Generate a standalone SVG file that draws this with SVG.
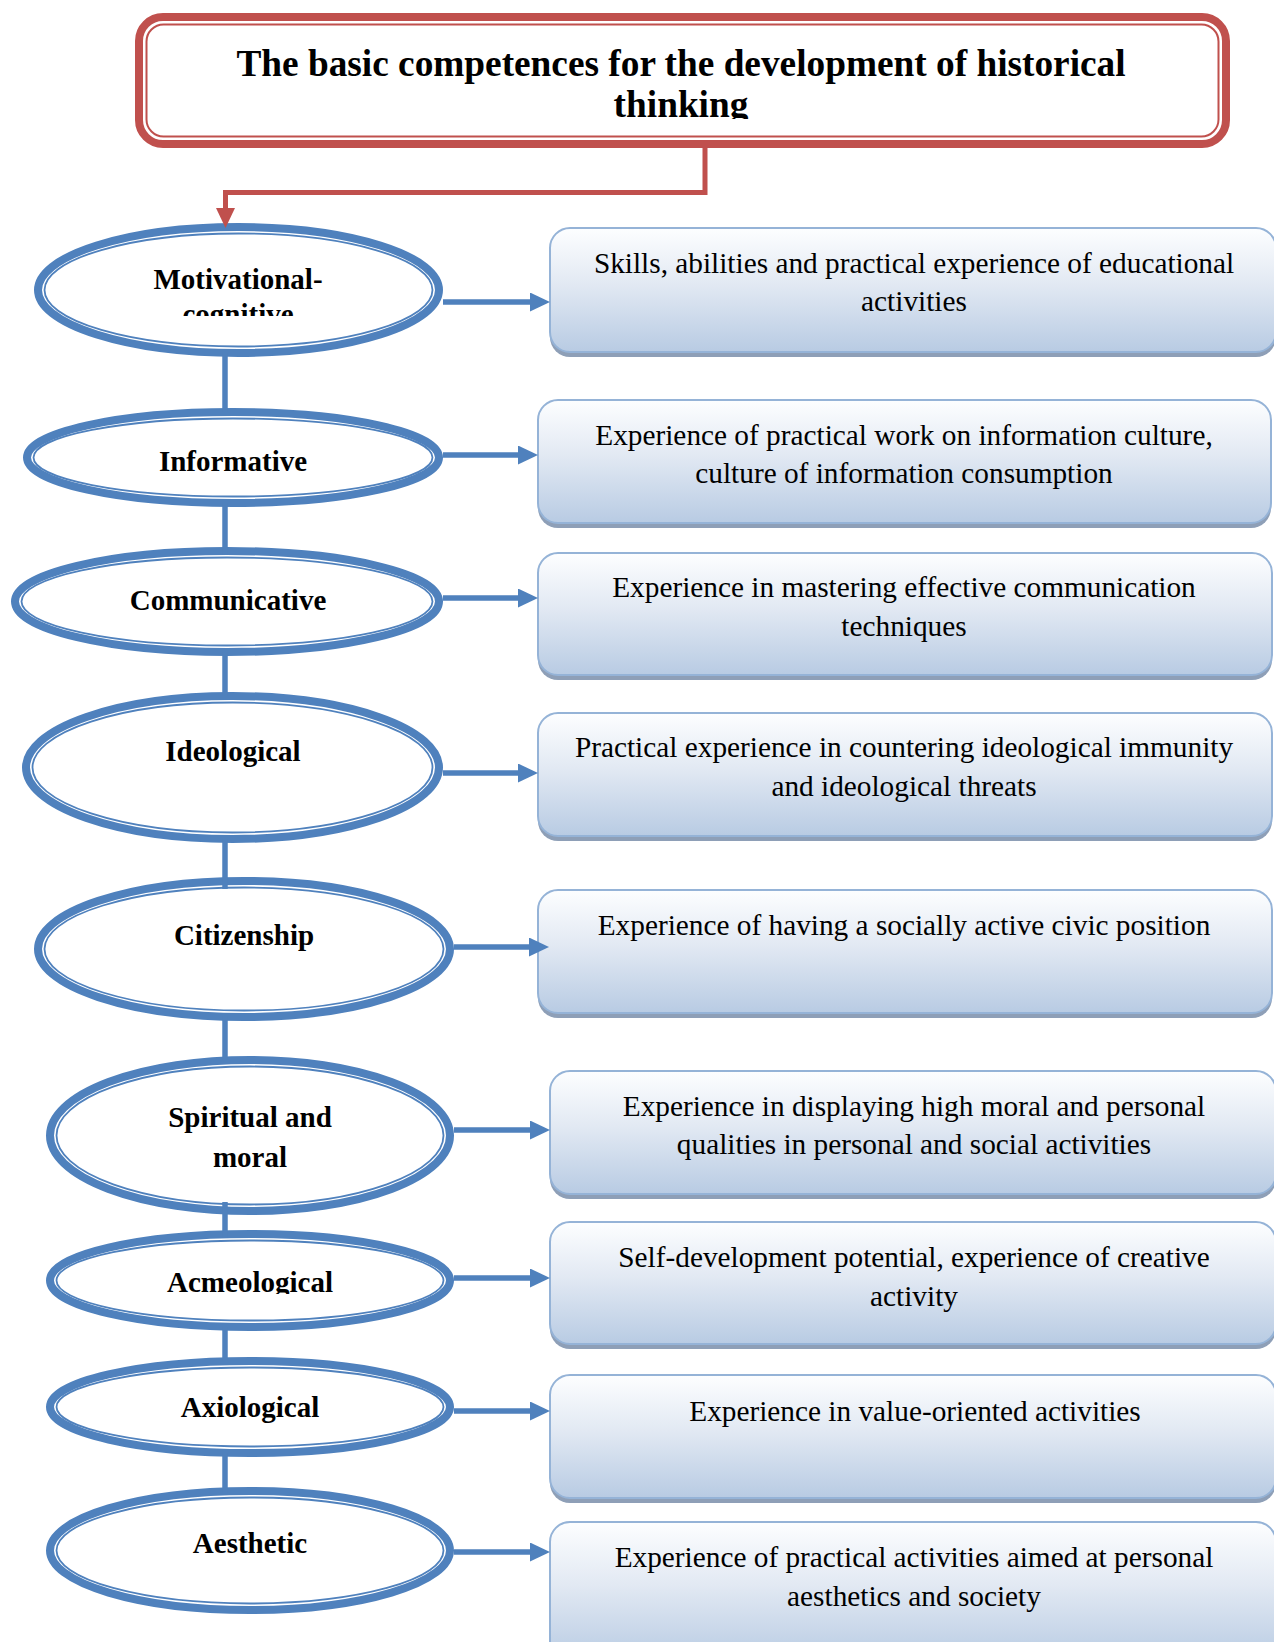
<svg xmlns="http://www.w3.org/2000/svg" width="1274" height="1642" viewBox="0 0 1274 1642">
<style>
.bg{fill:#ffffff}
.ell-o{fill:#ffffff;stroke:#4f81bd;stroke-width:8}
.ell-i{fill:none;stroke:#4f81bd;stroke-width:1.8}
.lbl{font-family:"Liberation Serif","Times New Roman",serif;font-weight:bold;font-size:29px;fill:#000;text-anchor:middle}
.box{fill:url(#boxGrad);stroke:#95b3d7;stroke-width:2}
.shadow{fill:#8e9fb7}
.btxt{font-family:"Liberation Serif","Times New Roman",serif;font-size:29.3px;fill:#000;text-anchor:middle}
.conn{stroke:#4f81bd;stroke-width:5.5;fill:none}
.arr{stroke:#4f81bd;stroke-width:5.5;fill:none;marker-end:url(#ahBlue)}
.red{stroke:#c0504d;stroke-width:5;fill:none;marker-end:url(#ahRed)}
.title-o{fill:#ffffff;stroke:#c0504d;stroke-width:8}
.title-i{fill:none;stroke:#c0504d;stroke-width:2}
.ttl{font-family:"Liberation Serif","Times New Roman",serif;font-weight:bold;font-size:37.3px;fill:#000;text-anchor:middle}
</style>
<defs>
<linearGradient id="boxGrad" x1="0" y1="0" x2="0" y2="1">
<stop offset="0" stop-color="#fdfeff"/>
<stop offset="0.45" stop-color="#e2e9f3"/>
<stop offset="1" stop-color="#b8cbe3"/>
</linearGradient>
<marker id="ahBlue" markerUnits="userSpaceOnUse" markerWidth="20" markerHeight="19" refX="10" refY="9.5" orient="auto" viewBox="0 0 20 19">
<path d="M0,0 L20,9.5 L0,19 z" fill="#4f81bd"/>
</marker>
<marker id="ahRed" markerUnits="userSpaceOnUse" markerWidth="20" markerHeight="19" refX="10" refY="9.5" orient="auto" viewBox="0 0 20 19">
<path d="M0,0 L20,9.5 L0,19 z" fill="#c0504d"/>
</marker>
<clipPath id="clipTitle"><rect x="140" y="20" width="1090" height="99"/></clipPath>
<clipPath id="clipMot"><rect x="40" y="230" width="400" height="86"/></clipPath>
<clipPath id="clipAcme"><rect x="50" y="1235" width="400" height="59"/></clipPath>
</defs>
<rect class="bg" x="0" y="0" width="1274" height="1642"/>

<g id="title">
<rect class="title-o" x="139" y="17" width="1087" height="127" rx="24"/>
<rect class="title-i" x="146.5" y="24.5" width="1072" height="112" rx="17"/>
<g clip-path="url(#clipTitle)">
<text class="ttl" x="681" y="76">The basic competences for the development of historical</text>
<text class="ttl" x="681" y="117">thinking</text>
</g>
</g>

<g id="n-motivational">
<ellipse class="ell-o" cx="238.5" cy="290" rx="200.5" ry="63"/>
<ellipse class="ell-i" cx="238.5" cy="290" rx="194" ry="56.5"/>
<g clip-path="url(#clipMot)">
<text class="lbl" x="238" y="289">Motivational-</text>
<text class="lbl" x="238" y="324">cognitive</text>
</g>
</g>
<g id="n-informative">
<ellipse class="ell-o" cx="233" cy="457.5" rx="206" ry="45.5"/>
<ellipse class="ell-i" cx="233" cy="457.5" rx="199.5" ry="39"/>
<text class="lbl" x="233" y="471">Informative</text>
</g>
<g id="n-communicative">
<ellipse class="ell-o" cx="227" cy="601.5" rx="212" ry="50.5"/>
<ellipse class="ell-i" cx="227" cy="601.5" rx="205.5" ry="44"/>
<text class="lbl" x="228" y="610">Communicative</text>
</g>
<g id="n-ideological">
<ellipse class="ell-o" cx="232.5" cy="767.5" rx="206.5" ry="71.5"/>
<ellipse class="ell-i" cx="232.5" cy="767.5" rx="200" ry="65"/>
<text class="lbl" x="233" y="761">Ideological</text>
</g>
<g id="n-citizenship">
<ellipse class="ell-o" cx="244" cy="949" rx="206" ry="68"/>
<ellipse class="ell-i" cx="244" cy="949" rx="199.5" ry="61.5"/>
<text class="lbl" x="244" y="945">Citizenship</text>
</g>
<g id="n-spiritual">
<ellipse class="ell-o" cx="250" cy="1135.5" rx="200" ry="75.5"/>
<ellipse class="ell-i" cx="250" cy="1135.5" rx="193.5" ry="69"/>
<text class="lbl" x="250" y="1127">Spiritual and</text>
<text class="lbl" x="250" y="1167">moral</text>
</g>
<g id="n-acmeological">
<ellipse class="ell-o" cx="250" cy="1280.5" rx="200" ry="46.5"/>
<ellipse class="ell-i" cx="250" cy="1280.5" rx="193.5" ry="40"/>
<g clip-path="url(#clipAcme)">
<text class="lbl" x="250" y="1292">Acmeological</text>
</g>
</g>
<g id="n-axiological">
<ellipse class="ell-o" cx="250" cy="1407" rx="200" ry="46"/>
<ellipse class="ell-i" cx="250" cy="1407" rx="193.5" ry="39.5"/>
<text class="lbl" x="250" y="1417">Axiological</text>
</g>
<g id="n-aesthetic">
<ellipse class="ell-o" cx="250" cy="1550.5" rx="200" ry="59.5"/>
<ellipse class="ell-i" cx="250" cy="1550.5" rx="193.5" ry="53"/>
<text class="lbl" x="250" y="1553">Aesthetic</text>
</g>

<g id="b1">
<rect class="shadow" x="550" y="233" width="726" height="124" rx="20"/>
<rect class="box" x="550" y="228" width="726" height="124" rx="20"/>
<text class="btxt" x="914" y="273">Skills, abilities and practical experience of educational</text>
<text class="btxt" x="914" y="311">activities</text>
</g>
<g id="b2">
<rect class="shadow" x="538" y="405" width="733" height="123" rx="20"/>
<rect class="box" x="538" y="400" width="733" height="123" rx="20"/>
<text class="btxt" x="904" y="445">Experience of practical work on information culture,</text>
<text class="btxt" x="904" y="483">culture of information consumption</text>
</g>
<g id="b3">
<rect class="shadow" x="538" y="558" width="734" height="122" rx="20"/>
<rect class="box" x="538" y="553" width="734" height="122" rx="20"/>
<text class="btxt" x="904" y="597">Experience in mastering effective communication</text>
<text class="btxt" x="904" y="636">techniques</text>
</g>
<g id="b4">
<rect class="shadow" x="538" y="718" width="734" height="123" rx="20"/>
<rect class="box" x="538" y="713" width="734" height="123" rx="20"/>
<text class="btxt" x="904" y="757">Practical experience in countering ideological immunity</text>
<text class="btxt" x="904" y="796">and ideological threats</text>
</g>
<g id="b5">
<rect class="shadow" x="538" y="895" width="734" height="123" rx="20"/>
<rect class="box" x="538" y="890" width="734" height="123" rx="20"/>
<text class="btxt" x="904" y="935">Experience of having a socially active civic position</text>
</g>
<g id="b6">
<rect class="shadow" x="550" y="1076" width="726" height="123" rx="20"/>
<rect class="box" x="550" y="1071" width="726" height="123" rx="20"/>
<text class="btxt" x="914" y="1116">Experience in displaying high moral and personal</text>
<text class="btxt" x="914" y="1154">qualities in personal and social activities</text>
</g>
<g id="b7">
<rect class="shadow" x="550" y="1227" width="726" height="122" rx="20"/>
<rect class="box" x="550" y="1222" width="726" height="122" rx="20"/>
<text class="btxt" x="914" y="1267">Self-development potential, experience of creative</text>
<text class="btxt" x="914" y="1306">activity</text>
</g>
<g id="b8">
<rect class="shadow" x="550" y="1380" width="726" height="123" rx="20"/>
<rect class="box" x="550" y="1375" width="726" height="123" rx="20"/>
<text class="btxt" x="915" y="1421">Experience in value-oriented activities</text>
</g>
<g id="b9">
<rect class="shadow" x="550" y="1527" width="726" height="140" rx="20"/>
<rect class="box" x="550" y="1522" width="726" height="140" rx="20"/>
<text class="btxt" x="914" y="1567">Experience of practical activities aimed at personal</text>
<text class="btxt" x="914" y="1606">aesthetics and society</text>
</g>

<g id="connectors">
<path class="red" d="M705,148 V192.5 H225.5 V218"/>
<line class="conn" x1="225" y1="353" x2="225" y2="412"/>
<line class="conn" x1="225" y1="503" x2="225" y2="555"/>
<line class="conn" x1="225" y1="652" x2="225" y2="696"/>
<line class="conn" x1="225" y1="839" x2="225" y2="889"/>
<line class="conn" x1="225" y1="1016" x2="225" y2="1060"/>
<line class="conn" x1="225" y1="1202" x2="225" y2="1238"/>
<line class="conn" x1="225" y1="1327" x2="225" y2="1361"/>
<line class="conn" x1="225" y1="1453" x2="225" y2="1493"/>
<line class="arr" x1="443" y1="302" x2="540" y2="302"/>
<line class="arr" x1="443" y1="455" x2="528" y2="455"/>
<line class="arr" x1="443" y1="598" x2="528" y2="598"/>
<line class="arr" x1="443" y1="773" x2="528" y2="773"/>
<line class="arr" x1="454" y1="947" x2="539" y2="947"/>
<line class="arr" x1="454" y1="1130" x2="540" y2="1130"/>
<line class="arr" x1="454" y1="1278" x2="540" y2="1278"/>
<line class="arr" x1="454" y1="1411" x2="540" y2="1411"/>
<line class="arr" x1="454" y1="1552" x2="540" y2="1552"/>
</g>
</svg>
